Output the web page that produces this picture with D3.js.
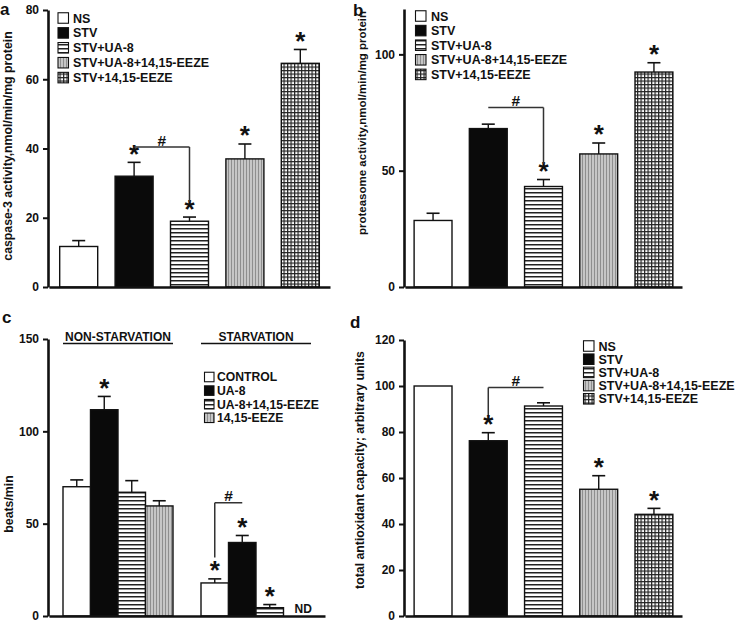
<!DOCTYPE html>
<html>
<head>
<meta charset="utf-8">
<script src="https://cdn.jsdelivr.net/npm/d3@7"></script>
<style>
  html, body { margin: 0; padding: 0; background: #fff; }
  svg { display: block; }
  text { font-family: "Liberation Sans", Arial, Helvetica, sans-serif; font-weight: bold; fill: #111; }
</style>
</head>
<body>
<svg id="chart" width="739" height="623"></svg>
<script>
// ---------------- DATA ----------------
const groupsABD = ["NS", "STV", "STV+UA-8", "STV+UA-8+14,15-EEZE", "STV+14,15-EEZE"];
const caspaseMean = [11.7, 32.0, 19.0, 37.0, 64.6];
const caspaseSem  = [1.7, 4.0, 1.2, 4.3, 4.0];
const caspaseStar = [false, true, true, true, true];
const caspaseTicks = [0, 20, 40, 60, 80];

const proteasomeMean = [28.6, 68.1, 43.2, 57.2, 92.4];
const proteasomeSem  = [3.1, 1.9, 3.0, 4.7, 4.0];
const proteasomeStar = [false, false, true, true, true];
const proteasomeTicks = [0, 50, 100];

const antioxMean = [100, 76.2, 91.3, 55.1, 44.2];
const antioxSem  = [0, 3.5, 1.4, 5.9, 2.6];
const antioxStar = [false, true, false, true, true];
const antioxTicks = [0, 20, 40, 60, 80, 100, 120];

const beatConditions = ["NON-STARVATION", "STARVATION"];
const beatTreatments = ["CONTROL", "UA-8", "UA-8+14,15-EEZE", "14,15-EEZE"];
const beatsNonStarv    = [70.0, 111.7, 67.0, 59.6];
const beatsNonStarvSem = [3.7, 7.2, 6.3, 2.8];
const beatsNonStarvStar = [false, true, false, false];
const beatsStarv    = [17.9, 39.8, 4.5, null];   // null = ND
const beatsStarvSem = [2.2, 3.8, 1.7, null];
const beatsStarvStar = [true, true, true, false];
const beatsTicks = [0, 50, 100, 150];

// ---------------- SETUP ----------------
const svg = d3.select("#chart");
const defs = svg.append("defs");
const INK = "#111";

function mkPattern(id, w, h, build) {
  const p = defs.append("pattern").attr("id", id)
    .attr("patternUnits", "userSpaceOnUse").attr("width", w).attr("height", h);
  build(p);
}
mkPattern("pWhite", 4, 4, p => p.append("rect").attr("width", 4).attr("height", 4).attr("fill", "#fff"));
mkPattern("pBlack", 4, 4, p => p.append("rect").attr("width", 4).attr("height", 4).attr("fill", "#0a0a0a"));
mkPattern("pHoriz", 4, 4, p => {
  p.append("rect").attr("width", 4).attr("height", 4).attr("fill", "#fff");
  p.append("rect").attr("y", 0).attr("width", 4).attr("height", 1.5).attr("fill", "#222");
});
mkPattern("pVert", 3, 4, p => {
  p.append("rect").attr("width", 3).attr("height", 4).attr("fill", "#c6c6c6");
  p.append("rect").attr("x", 0).attr("width", 1).attr("height", 4).attr("fill", "#8e8e8e");
});
mkPattern("pGrid", 3.5, 3.5, p => {
  p.append("rect").attr("width", 3.5).attr("height", 3.5).attr("fill", "#fff");
  p.append("rect").attr("x", 0).attr("width", 1.2).attr("height", 3.5).attr("fill", "#222");
  p.append("rect").attr("y", 0).attr("width", 3.5).attr("height", 1.2).attr("fill", "#222");
});
const fillsABD = ["url(#pWhite)", "url(#pBlack)", "url(#pHoriz)", "url(#pVert)", "url(#pGrid)"];
const fillsC = ["url(#pWhite)", "url(#pBlack)", "url(#pHoriz)", "url(#pVert)"];

function yAxis(g, y, ticks, x0, fs) {
  const ax = g.append("g").attr("transform", `translate(${x0},0)`)
    .call(d3.axisLeft(y).tickValues(ticks).tickSize(5).tickSizeOuter(0).tickPadding(4).tickFormat(d3.format("d")));
  ax.select(".domain").attr("stroke", INK).attr("stroke-width", 2.6);
  ax.selectAll(".tick line").attr("stroke", INK).attr("stroke-width", 2);
  ax.selectAll(".tick text").style("font-size", fs + "px").attr("fill", INK);
  ax.attr("font-family", null);
}
function xAxis(g, x, y0) {
  const ax = g.append("g").attr("transform", `translate(0,${y0})`)
    .call(d3.axisBottom(x).tickValues([]).tickSizeOuter(0));
  ax.select(".domain").attr("stroke", INK).attr("stroke-width", 2.6);
}
function star(g, cx, yTop, fs) {
  g.append("text").attr("x", cx).attr("y", yTop + 0.5)
    .attr("text-anchor", "middle").style("font-size", fs + "px").text("*");
}
function errBar(g, cx, y1, y2) {
  g.append("line").attr("x1", cx).attr("x2", cx).attr("y1", y1).attr("y2", y2)
    .attr("stroke", INK).attr("stroke-width", 1.4);
  g.append("line").attr("x1", cx - 6.5).attr("x2", cx + 6.5).attr("y1", y2).attr("y2", y2)
    .attr("stroke", INK).attr("stroke-width", 1.6);
}
function legend(g, labels, fills, sx, y0, dy, sq, tx, fs) {
  labels.forEach((lab, i) => {
    const cy = y0 + i * dy;
    g.append("rect").attr("x", sx).attr("y", cy - sq / 2).attr("width", sq).attr("height", sq)
      .attr("fill", fills[i]).attr("stroke", INK).attr("stroke-width", 1.1);
    g.append("text").attr("x", tx).attr("y", cy + fs * 0.36).style("font-size", fs + "px").text(lab);
  });
}
function yLabel(g, x, y, txt, fs) {
  g.append("text").attr("transform", `translate(${x},${y}) rotate(-90)`)
    .attr("text-anchor", "middle").style("font-size", fs + "px").text(txt);
}
function panelLetter(g, x, y, t) {
  g.append("text").attr("x", x).attr("y", y).style("font-size", "17px").text(t);
}
function bracket(g, xL, xR, yH, dropSide, yDrop) {
  const xd = dropSide === "left" ? xL : xR;
  g.append("path")
    .attr("d", `M${xL},${yH} L${xR},${yH} M${xd},${yH} L${xd},${yDrop}`)
    .attr("fill", "none").attr("stroke", "#333").attr("stroke-width", 1.5);
  g.append("text").attr("x", (xL + xR) / 2).attr("y", yH - 1.5)
    .attr("text-anchor", "middle").style("font-size", "15.5px").text("#");
}

function fiveBarPanel(opts) {
  const g = svg.append("g");
  const x = d3.scaleBand().domain(groupsABD).range(opts.xr).paddingInner(0.314).paddingOuter(opts.po);
  const y = d3.scaleLinear().domain(opts.ydom).range(opts.yr);
  const bw = x.bandwidth();
  groupsABD.forEach((k, i) => {
    g.append("rect").attr("x", x(k)).attr("y", y(opts.mean[i])).attr("width", bw)
      .attr("height", y(0) - y(opts.mean[i]))
      .attr("fill", fillsABD[i]).attr("stroke", INK).attr("stroke-width", 1.4);
    const cx = x(k) + bw / 2;
    if (opts.sem[i] > 0) errBar(g, cx, y(opts.mean[i]), y(opts.mean[i] + opts.sem[i]));
    if (opts.star[i]) star(g, cx, y(opts.mean[i] + opts.sem[i]), 26);
  });
  const b = opts.bracket;
  bracket(g, x(groupsABD[1]) + bw / 2, x(groupsABD[2]) + bw / 2, y(b.h), b.side, y(b.drop));
  xAxis(g, x, y(0));
  yAxis(g, y, opts.ticks, opts.xr[0] - 1, opts.tfs);
  legend(g, groupsABD, fillsABD, opts.leg.sx, opts.leg.y0, opts.leg.dy, 10.5, opts.leg.tx, 12.5);
  yLabel(g, opts.lab.x, opts.lab.y, opts.lab.t, opts.lab.fs);
  return g;
}

// ---------- Panel a ----------
fiveBarPanel({
  xr: [49, 330], po: 0.193, ydom: [0, 80], yr: [287, 10],
  mean: caspaseMean, sem: caspaseSem, star: caspaseStar, ticks: caspaseTicks, tfs: 12,
  bracket: { h: 40.4, side: "right", drop: 24.6 },
  leg: { sx: 58, y0: 18, dy: 14.9, tx: 73 },
  lab: { x: 12, y: 146, t: "caspase-3 activity,nmol/min/mg protein", fs: 12.3 }
});
panelLetter(svg, 0, 15, "a");

// ---------- Panel b ----------
fiveBarPanel({
  xr: [405, 682], po: 0.165, ydom: [0, 119.5], yr: [287, 9],
  mean: proteasomeMean, sem: proteasomeSem, star: proteasomeStar, ticks: proteasomeTicks, tfs: 12,
  bracket: { h: 77.2, side: "right", drop: 53 },
  leg: { sx: 415.5, y0: 16, dy: 14.6, tx: 431 },
  lab: { x: 366, y: 123, t: "proteasome activity,nmol/min/mg protein", fs: 11.5 }
});
panelLetter(svg, 353, 16, "b");

// ---------- Panel d ----------
fiveBarPanel({
  xr: [405, 682], po: 0.165, ydom: [0, 120], yr: [616, 340],
  mean: antioxMean, sem: antioxSem, star: antioxStar, ticks: antioxTicks, tfs: 12,
  bracket: { h: 99.3, side: "left", drop: 87.4 },
  leg: { sx: 583.5, y0: 346, dy: 13.2, tx: 598.5 },
  lab: { x: 364, y: 470, t: "total antioxidant capacity; arbitrary units", fs: 12.3 }
});
panelLetter(svg, 350, 328, "d");

// ---------- Panel c ----------
(function () {
  const g = svg.append("g");
  const xg = d3.scaleBand().domain(beatConditions).range([49, 325]).paddingInner(0.203).paddingOuter(0.1015);
  const xs = d3.scaleBand().domain(beatTreatments).range([0, xg.bandwidth()]).padding(0);
  const y = d3.scaleLinear().domain([0, 150]).range([616, 339]);
  const bw = xs.bandwidth();
  const sets = [
    { cond: beatConditions[0], mean: beatsNonStarv, sem: beatsNonStarvSem, star: beatsNonStarvStar },
    { cond: beatConditions[1], mean: beatsStarv, sem: beatsStarvSem, star: beatsStarvStar }
  ];
  sets.forEach(s => {
    beatTreatments.forEach((t, i) => {
      const x0 = xg(s.cond) + xs(t);
      const cx = x0 + bw / 2;
      if (s.mean[i] == null) {
        g.append("text").attr("x", cx + 6).attr("y", 613).attr("text-anchor", "middle")
          .style("font-size", "12px").text("ND");
        return;
      }
      g.append("rect").attr("x", x0).attr("y", y(s.mean[i])).attr("width", bw)
        .attr("height", y(0) - y(s.mean[i]))
        .attr("fill", fillsC[i]).attr("stroke", INK).attr("stroke-width", 1.4);
      errBar(g, cx, y(s.mean[i]), y(s.mean[i] + s.sem[i]));
      if (s.star[i]) star(g, cx, y(s.mean[i] + s.sem[i]), 26);
    });
    g.append("text").attr("x", xg(s.cond) + xg.bandwidth() / 2).attr("y", 341)
      .attr("text-anchor", "middle").style("font-size", "12px").text(s.cond);
    g.append("line").attr("x1", xg(s.cond)).attr("x2", xg(s.cond) + xg.bandwidth())
      .attr("y1", 343.5).attr("y2", 343.5).attr("stroke", INK).attr("stroke-width", 1.3);
  });
  const cL = xg(beatConditions[1]) + xs(beatTreatments[0]) + bw / 2;
  const cR = xg(beatConditions[1]) + xs(beatTreatments[1]) + bw / 2;
  bracket(g, cL, cR, y(61.3), "left", y(31.7));
  const xAx = d3.scaleBand().domain(["all"]).range([49, 325]);
  xAxis(g, xAx, y(0));
  yAxis(g, y, beatsTicks, 48, 12);
  legend(g, beatTreatments, fillsC, 204.5, 377, 13.6, 9.5, 217, 12.2);
  yLabel(g, 13, 504, "beats/min", 12.3);
  panelLetter(g, 2, 323, "c");
})();
</script>
</body>
</html>
